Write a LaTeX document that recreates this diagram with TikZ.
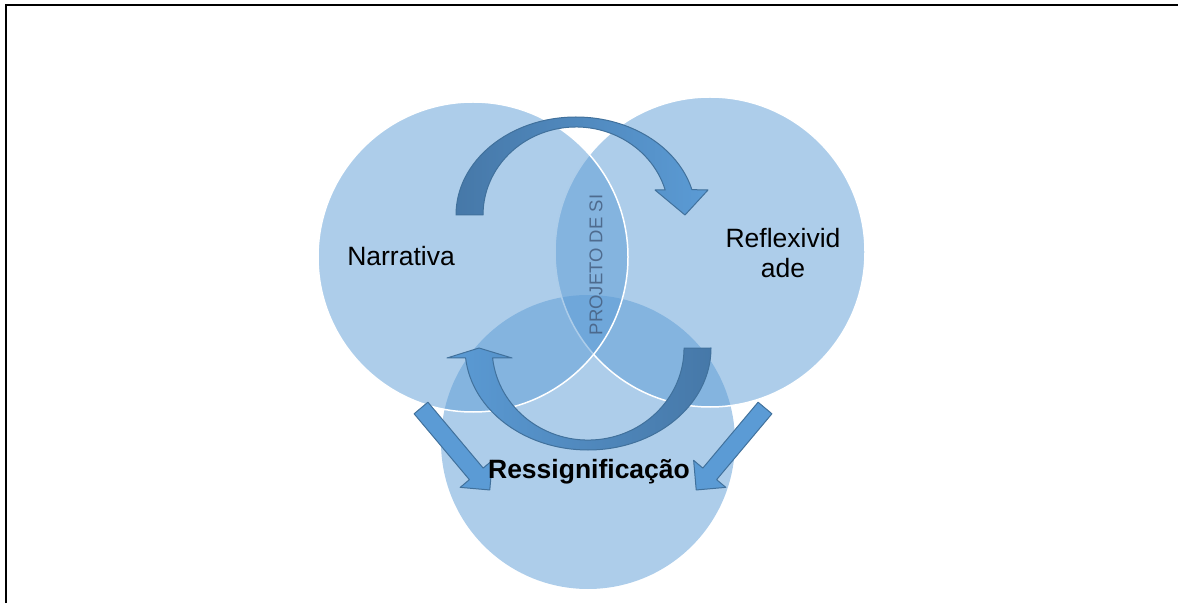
\documentclass[tikz,border=0pt]{standalone}
\usepackage{fontspec}
\setmainfont{Liberation Sans}
\usetikzlibrary{calc}

\definecolor{venn}{RGB}{91,155,213}
\definecolor{vennline}{RGB}{65,113,156}
\definecolor{arcdark}{RGB}{70,120,168}
\definecolor{lenslabel}{RGB}{70,95,128}

\begin{document}
\begin{tikzpicture}[x=1pt, y=1pt, font=\fontsize{26.5}{30}\selectfont,
    every node/.style={inner sep=0pt,outer sep=0pt},
    disc/.style={fill=venn, fill opacity=0.5, draw=white, line width=1.5pt},
    flatarrow/.style={fill=venn, draw=vennline, line width=1pt, line join=round},
    bentarrow/.style={draw=vennline, line width=1pt, line join=round}]
      \useasboundingbox (0,0) rectangle (1178,603);
      \draw[line width=2pt] (6,0) -- (6,598) -- (1178,598);

      % the three sets
      \draw[disc, draw=none] (588,161) circle (147);
      \draw[disc] (710,351) circle (155);
      \draw[disc] (473,346) circle (155);

      % bent arrows
      \shadedraw[bentarrow, left color=arcdark, right color=venn]
        (456,388) arc[start angle=180, end angle=15, x radius=120, y radius=98]
        -- (708,413) -- (685,388) -- (655,413) -- (665.2,413)
        arc[start angle=16.5, end angle=180, x radius=93, y radius=88] -- cycle;
      \shadedraw[bentarrow, left color=venn, right color=arcdark]
        (711,255) arc[start angle=0, end angle=-174.4, x radius=123, y radius=102]
        -- (447,245) -- (479,255) -- (512,245) -- (492.6,245)
        arc[start angle=-173.8, end angle=0, x radius=96, y radius=92] -- cycle;

      % straight arrows
      \draw[flatarrow, shift={(421,195)}, rotate=-50]
        (0,-9) -- (86,-9) -- (86,-21) -- (107,0) -- (86,21) -- (86,9) -- (0,9) -- cycle;
      \draw[flatarrow, shift={(765,195)}, rotate=-130]
        (0,-9) -- (86,-9) -- (86,-21) -- (107,0) -- (86,21) -- (86,9) -- (0,9) -- cycle;

      \draw (401,337) node[anchor=base] (narr) {Narrativa};
      \draw (783,350) node[align=center] (refl) {Reflexivid\\ade};
      \draw (589,125) node[anchor=base, font=\fontsize{26.5}{30}\selectfont\bfseries] (ress) {Ressignificação};
      \draw (596,338) node[rotate=90, text=lenslabel, text opacity=0.85,
        font=\fontsize{18.5}{20}\selectfont] (proj) {PROJETO DE SI};
    \end{tikzpicture}
\end{document}
